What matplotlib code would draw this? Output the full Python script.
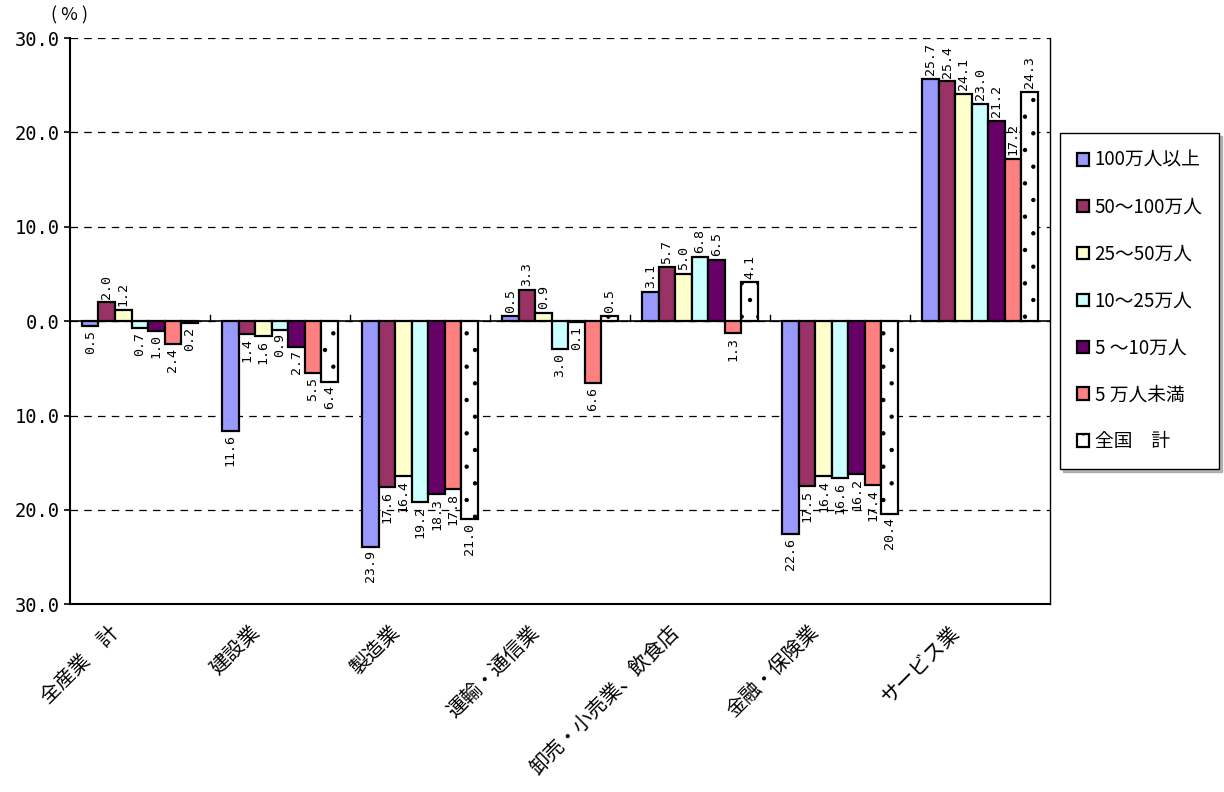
import numpy as np
import matplotlib
matplotlib.use("Agg")
from matplotlib import pyplot as plt
from matplotlib.ticker import FuncFormatter, MultipleLocator

plt.rcParams['font.family'] = ['Noto Sans CJK JP', 'DejaVu Sans']
plt.rcParams['hatch.linewidth'] = 0.7

categories = ['全産業　計', '建設業', '製造業', '運輸・通信業',
              '卸売・小売業、飲食店', '金融・保険業', 'サービス業']
series = ['100万人以上', '50～100万人', '25～50万人', '10～25万人',
          '5 ～10万人', '5 万人未満', '全国　計']

v_100 = [-0.5, -11.6, -23.9, 0.5, 3.1, -22.6, 25.7]
v_50_100 = [2.0, -1.4, -17.6, 3.3, 5.7, -17.5, 25.4]
v_25_50 = [1.2, -1.6, -16.4, 0.9, 5.0, -16.4, 24.1]
v_10_25 = [-0.7, -0.9, -19.2, -3.0, 6.8, -16.6, 23.0]
v_5_10 = [-1.0, -2.7, -18.3, -0.1, 6.5, -16.2, 21.2]
v_under5 = [-2.4, -5.5, -17.8, -6.6, -1.3, -17.4, 17.2]
v_all = [-0.2, -6.4, -21.0, 0.5, 4.1, -20.4, 24.3]

values = [v_100, v_50_100, v_25_50, v_10_25, v_5_10, v_under5, v_all]
colors = ['#9999FF', '#993366', '#FFFFCC', '#CCFFFF', '#660066', '#FF8080', '#FFFFFF']
hatches = [None, None, None, None, None, None, '.']

fig = plt.figure(figsize=(12.24, 7.92), dpi=100)
ax = fig.add_axes([0.057, 0.237, 0.801, 0.715])

n = len(series)
width = 0.118
x = np.arange(len(categories))

for i, (vals, col, h) in enumerate(zip(values, colors, hatches)):
    pos = x + (i - (n - 1) / 2) * width
    bars = ax.bar(pos, vals, width, color=col, edgecolor='black', linewidth=1.6,
                  hatch=h, label=series[i], zorder=3)
    for px, v in zip(pos, vals):
        off = 0.4 if v >= 0 else -0.4
        ax.text(px, v + off, f'{abs(v):.1f}', rotation=90, ha='center',
                va='bottom' if v >= 0 else 'top', fontsize=9.5,
                family='DejaVu Sans Mono', zorder=4)

ax.set_xlim(-0.5, len(categories) - 0.5)
ax.set_ylim(-30, 30)
ax.yaxis.set_major_locator(MultipleLocator(10))
ax.yaxis.set_major_formatter(FuncFormatter(lambda v, p: f'{abs(v):.1f}'))
ax.tick_params(axis='y', labelsize=13.5, length=4, width=1.2, direction='out')
for lab in ax.get_yticklabels():
    lab.set_family('DejaVu Sans Mono')
ax.grid(axis='y', linestyle=(0, (6, 5)), color='black', linewidth=0.9, zorder=0)

ax.axhline(0, color='black', linewidth=1.2, zorder=5)
ax.set_xticks(x)
ax.set_xticklabels([])
ax.tick_params(axis='x', length=0)
for b in np.arange(0.5, len(categories) - 0.5, 1.0):
    ax.plot([b, b], [0, 0.6], color='black', linewidth=1, zorder=5)

for xi, cat in zip(x, categories):
    ax.annotate(cat, xy=(xi, -30), xycoords='data', xytext=(-17, -18),
                textcoords='offset points', rotation=45, ha='right', va='center',
                rotation_mode='anchor', fontsize=14.5)

for s in ['left', 'bottom']:
    ax.spines[s].set_linewidth(1.5)
ax.spines['right'].set_linewidth(1.0)
ax.spines['top'].set_visible(False)

fig.text(0.057, 0.98, '( % )', ha='center', va='center', fontsize=13)

leg = fig.legend(loc='upper left', bbox_to_anchor=(0.866, 0.832), fontsize=13.5,
                 frameon=True, fancybox=False, edgecolor='black', labelspacing=1.38,
                 handlelength=0.65, handleheight=0.65, handletextpad=0.3,
                 borderpad=0.9, borderaxespad=0,
                 shadow={'color': '0.55', 'alpha': 0.6})
leg.get_frame().set_linewidth(1.0)

fig.savefig('out.png', dpi=100, facecolor='white')
